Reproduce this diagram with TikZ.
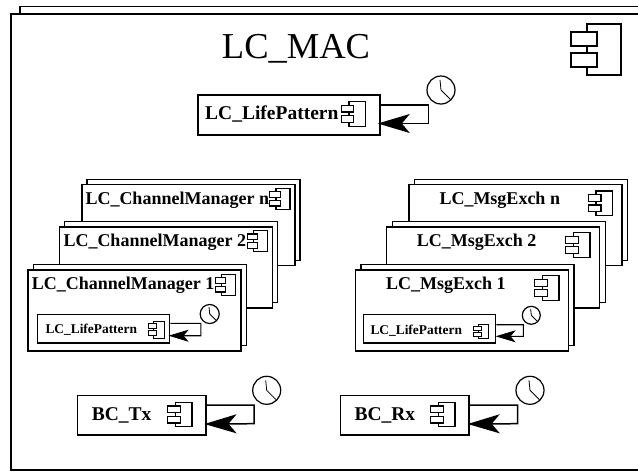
\documentclass[tikz,border=0pt]{standalone}
\usepackage{fontspec}
\setmainfont{Liberation Serif}
\usetikzlibrary{arrows.meta}

\begin{document}
\begin{tikzpicture}[
  x=1pt, y=-1pt,
  wh/.style 2 args={minimum width=#1pt, minimum height=#2pt},
  frameback/.style={rectangle, draw=black, fill=white, line width=1.5pt, inner sep=0pt, wh={640}{453}},
  framefront/.style={rectangle, draw=black, fill=white, line width=2.3pt, inner sep=0pt, wh={639}{456}},
  stackback/.style={rectangle, draw=black, fill=white, line width=1.2pt, inner sep=0pt, wh={213}{81}},
  stackfront/.style={rectangle, draw=black, fill=white, line width=1.8pt, inner sep=0pt, wh={213}{81}},
  actbox/.style={rectangle, draw=black, fill=white, line width=1.6pt, inner sep=0pt, wh={128.4}{39.7}},
  innerbox/.style={rectangle, draw=black, fill=white, line width=1.2pt, inner sep=0pt, wh={132.4}{28.3}},
  lbl/.style={inner sep=0pt, anchor=base west, font=\fontsize{18}{18}\selectfont\bfseries},
  lblbig/.style={inner sep=0pt, anchor=base west, font=\fontsize{19.5}{20}\selectfont\bfseries},
  lblsmall/.style={inner sep=0pt, anchor=base west, font=\fontsize{13.4}{14}\selectfont\bfseries},
  titlelbl/.style={inner sep=0pt, anchor=base, font=\fontsize{36.5}{37}\selectfont},
  tickarr/.style={-{Stealth[length=32pt, width=19pt, inset=8pt]}, line width=1.5pt},
  tickarrsmall/.style={-{Stealth[length=20pt, width=12pt, inset=5pt]}, line width=1.1pt},
  compicon/.pic={
    \draw[fill=white] (0,0) rectangle (34,51);
    \draw[fill=white] (-16,8) rectangle (10,21.7);
    \draw[fill=white] (-16,29) rectangle (10,43);
  },
  clockface/.pic={
    \draw[fill=white, line width=1.2pt] (0,0) circle (14);
    \draw[line width=0.8pt] (-1,-10) -- (0,0) -- (9.5,9.5);
  }
]
\clip[use as bounding box] (0,0) rectangle (638,472);

% ---- LC_MAC ----
\node[frameback]  (mac-back) at (340,233) {};
\node[framefront] (mac)      at (330.5,242) {};
\node[titlelbl]   (mac-lbl)  at (296,58.3) {LC\_MAC};
\pic[line width=1.8pt] at (587,24) {compicon};

% ---- LC_LifePattern ----
\node[actbox, wh={181.7}{39.7}] (lp) at (288.85,114.85) {};
\node[lblbig] (lp-lbl) at (205,119.3) {LC\_LifePattern};
\pic[xscale=.48, yscale=.48, line width=1.3pt] at (349,101.7) {compicon};
\draw[tickarr] ([yshift=9.85pt]lp.east) -- ++(48,0) -- ++(0,18.5) -- ([xshift=-2.7pt, yshift=-8.65pt]lp.east);
\pic at (441,90) {clockface};

% ---- LC_ChannelManager n ----
\node[stackback]  (cmn-back) at (193.5,219.65) {};
\node[stackfront] (cmn)      at (188.35,225) {};
\node[lbl] (cmn-lbl) at (85.3,204) {LC\_ChannelManager n};
\pic[xscale=.41, yscale=.41, line width=1.2pt] at (276,188.3) {compicon};

% ---- LC_ChannelManager 2 ----
\node[stackback]  (cm2-back) at (171.15,261.65) {};
\node[stackfront] (cm2)      at (166,267.2) {};
\node[lbl] (cm2-lbl) at (63.3,246) {LC\_ChannelManager 2};
\pic[xscale=.41, yscale=.41, line width=1.2pt] at (253.7,230.7) {compicon};

% ---- LC_ChannelManager 1 ----
\node[stackback]  (cm1-back) at (140,304.65) {};
\node[stackfront] (cm1)      at (134.35,310.35) {};
\node[lbl] (cm1-lbl) at (31.7,289.3) {LC\_ChannelManager 1};
\pic[xscale=.41, yscale=.41, line width=1.2pt] at (221.7,274.3) {compicon};
\node[innerbox] (cm1-lp) at (103.5,328.85) {};
\node[lblsmall] (cm1-lp-lbl) at (45.3,333.3) {LC\_LifePattern};
\pic[xscale=.33, yscale=.33, line width=1pt] at (153.5,321.3) {compicon};
\draw[tickarrsmall] ([yshift=5.5pt]cm1-lp.east) -- ++(30.6,0) -- ++(0,12.4) -- ([xshift=-1.7pt, yshift=-6.85pt]cm1-lp.east);
\pic[scale=.68] at (209.7,314) {clockface};

% ---- LC_MsgExch n ----
\node[stackback]  (men-back) at (521.15,219.65) {};
\node[stackfront] (men)      at (515.65,225) {};
\node[lbl] (men-lbl) at (439.3,204) {LC\_MsgExch n};
\pic[xscale=.49, yscale=.48, line width=1.2pt] at (596,191) {compicon};

% ---- LC_MsgExch 2 ----
\node[stackback]  (me2-back) at (498.65,261.65) {};
\node[stackfront] (me2)      at (493,267.2) {};
\node[lbl] (me2-lbl) at (416.7,246.7) {LC\_MsgExch 2};
\pic[xscale=.49, yscale=.48, line width=1.2pt] at (573.3,232.7) {compicon};

% ---- LC_MsgExch 1 ----
\node[stackback]  (me1-back) at (467.5,304.65) {};
\node[stackfront] (me1)      at (462,310.35) {};
\node[lbl] (me1-lbl) at (386,289.3) {LC\_MsgExch 1};
\pic[xscale=.49, yscale=.48, line width=1.2pt] at (542.3,275.7) {compicon};
\node[innerbox] (me1-lp) at (429.5,328.85) {};
\node[lblsmall] (me1-lp-lbl) at (370.3,334.3) {LC\_LifePattern};
\pic[xscale=.31, yscale=.28, line width=1pt] at (478.3,324.3) {compicon};
\draw[tickarrsmall] ([yshift=4.15pt]me1-lp.east) -- ++(27,0) -- ++(0,11.6) -- ([xshift=-.7pt, yshift=-7.45pt]me1-lp.east);
\pic[scale=.64] at (531.3,315.3) {clockface};

% ---- BC_Tx ----
\node[actbox] (tx) at (141.5,415.15) {};
\node[lblbig] (tx-lbl) at (91.7,420) {BC\_Tx};
\pic[xscale=.49, yscale=.48, line width=1.3pt] at (175.3,402.3) {compicon};
\draw[tickarr] ([yshift=10.15pt]tx.east) -- ++(47.6,0) -- ++(0,18.7) -- ([xshift=-2pt, yshift=-8.85pt]tx.east);
\pic at (266.7,390.3) {clockface};

% ---- BC_Rx ----
\node[actbox] (rx) at (404.7,415.15) {};
\node[lblbig] (rx-lbl) at (354.3,420) {BC\_Rx};
\pic[xscale=.49, yscale=.48, line width=1.3pt] at (438.3,402.3) {compicon};
\draw[tickarr] ([yshift=10.15pt]rx.east) -- ++(47.9,0) -- ++(0,18.7) -- ([xshift=-2pt, yshift=-8.85pt]rx.east);
\pic at (530,390.3) {clockface};

\end{tikzpicture}
\end{document}
